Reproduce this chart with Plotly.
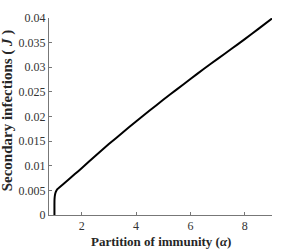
import plotly.graph_objects as go

alpha = [1.0, 1.0, 1.003, 1.02, 1.05, 1.1, 1.2, 1.33, 1.5, 1.75, 2.0, 2.5, 3.0, 3.5,
         4.0, 4.5, 5.0, 5.5, 6.0, 6.5, 7.0, 7.5, 8.0, 8.5, 9.0]
J = [0.0, 0.002, 0.0032, 0.0041, 0.0047, 0.0052, 0.0057, 0.0063, 0.0071, 0.0083, 0.0095,
     0.0120, 0.0144, 0.0167, 0.0190, 0.0212, 0.0234, 0.0255, 0.0276, 0.0297, 0.0317,
     0.0337, 0.0357, 0.0378, 0.0399]

x_ticks = [2, 4, 6, 8]
y_ticks = [0, 0.005, 0.01, 0.015, 0.02, 0.025, 0.03, 0.035, 0.04]
y_tick_labels = ["0", "0.005", "0.01", "0.015", "0.02", "0.025", "0.03", "0.035", "0.04"]

fig = go.Figure()
fig.add_trace(go.Scatter(x=alpha, y=J, mode="lines",
                         line=dict(color="black", width=2, shape="spline", smoothing=0.3),
                         showlegend=False, hoverinfo="skip"))

serif = "Liberation Serif, Times New Roman, serif"
axis_common = dict(showgrid=False, zeroline=False, showline=True, linecolor="#777",
                   linewidth=1, ticks="inside", ticklen=3, tickcolor="#777", mirror=False,
                   automargin=False,
                   tickfont=dict(family=serif, size=12, color="#333"))

fig.update_layout(
    width=300, height=250,
    margin=dict(l=49, r=28, t=18, b=35, autoexpand=False),
    paper_bgcolor="white", plot_bgcolor="white",
    font=dict(family=serif, size=12, color="#262626"),
    xaxis=dict(range=[0.8, 9.0], tickvals=x_ticks, **axis_common),
    yaxis=dict(range=[0, 0.04], tickvals=y_ticks, ticktext=y_tick_labels, **axis_common),
    annotations=[
        dict(text="<b>Partition of immunity (<i>α</i>)</b>", xref="paper", yref="paper",
             x=0.5, y=-0.135, xanchor="center", yanchor="middle", showarrow=False,
             font=dict(family=serif, size=13, color="#262626")),
        dict(text="<b>Secondary infections ( <i>J</i> )</b>", xref="paper", yref="paper",
             x=-0.185, y=0.53, xanchor="center", yanchor="middle", showarrow=False,
             textangle=-90, font=dict(family=serif, size=15, color="#262626")),
    ],
)

fig.write_html("out.html", config={"displayModeBar": False},
               post_script="document.body.style.margin='0px';")
